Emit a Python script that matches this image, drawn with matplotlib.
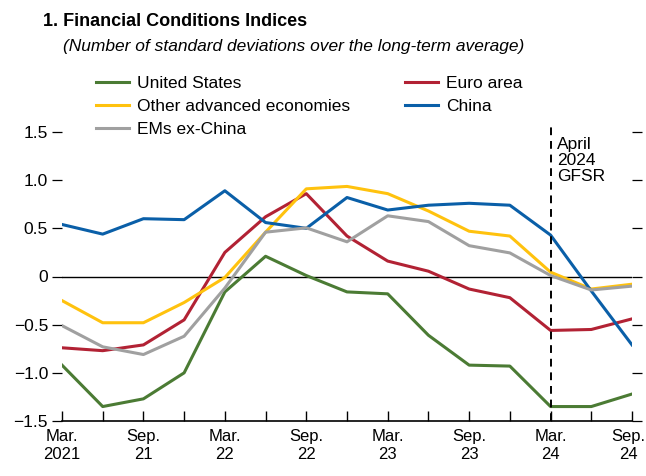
import numpy as np
import matplotlib.pyplot as plt
import matplotlib.transforms as mtransforms
from matplotlib.lines import Line2D

plt.rcParams['font.family'] = ['Liberation Sans Narrow', 'Liberation Sans', 'DejaVu Sans']

# quarterly observations, Mar. 2021 .. Sep. 2024
quarters = ['2021Q1', '2021Q2', '2021Q3', '2021Q4', '2022Q1', '2022Q2', '2022Q3', '2022Q4',
            '2023Q1', '2023Q2', '2023Q3', '2023Q4', '2024Q1', '2024Q2', '2024Q3']
united_states = [-0.92, -1.35, -1.27, -1.00, -0.16, 0.21, 0.01, -0.16,
                 -0.18, -0.61, -0.92, -0.93, -1.35, -1.35, -1.22]
euro_area = [-0.74, -0.77, -0.71, -0.45, 0.25, 0.62, 0.86, 0.42,
             0.16, 0.055, -0.13, -0.22, -0.56, -0.55, -0.44]
other_adv = [-0.25, -0.48, -0.48, -0.27, -0.01, 0.46, 0.91, 0.935,
             0.86, 0.68, 0.47, 0.42, 0.045, -0.13, -0.08]
china = [0.54, 0.44, 0.60, 0.59, 0.89, 0.56, 0.50, 0.82,
         0.69, 0.74, 0.76, 0.74, 0.43, -0.15, -0.71]
ems_ex_china = [-0.51, -0.73, -0.81, -0.62, -0.12, 0.46, 0.505, 0.36,
                0.63, 0.57, 0.32, 0.245, 0.01, -0.14, -0.10]

tick_labels = ['Mar.\n2021', 'Sep.\n21', 'Mar.\n22', 'Sep.\n22',
               'Mar.\n23', 'Sep.\n23', 'Mar.\n24', 'Sep.\n24']
gfsr_quarter = '2024Q1'

series = [
    ('United States', united_states, '#4b7b34'),
    ('Euro area', euro_area, '#b22234'),
    ('Other advanced economies', other_adv, '#ffc20e'),
    ('China', china, '#0a5fa8'),
    ('EMs ex-China', ems_ex_china, '#a0a0a0'),
]

x = np.arange(len(quarters))

fig = plt.figure(figsize=(6.46, 4.76), dpi=100)
ax = fig.add_axes([62/646, 1 - 421/476, (632 - 62)/646, (421 - 132)/476])

ax.axhline(0, color='black', lw=1.0, zorder=1)
for name, vals, col in series:
    ax.plot(x, vals, color=col, lw=2.2, label=name, zorder=3)

gx = quarters.index(gfsr_quarter)
ax.plot([gx, gx], [-1.5, 1.55], color='black', lw=1.4, ls=(0, (4, 3)),
        clip_on=False, zorder=4)
ax.text(gx + 0.15, 1.45, 'April\n2024\nGFSR', fontsize=12.5, va='top', ha='left',
        linespacing=1.1)

ax.set_xlim(0, len(quarters) - 1)
ax.set_ylim(-1.5, 1.5)
ax.set_xticks(x)
ax.set_xticklabels([tick_labels[i // 2] if i % 2 == 0 else '' for i in x])
ax.set_yticks([-1.5, -1.0, -0.5, 0, 0.5, 1.0, 1.5])
ax.set_yticklabels(['\u22121.5', '\u22121.0', '\u22120.5', '0', '0.5', '1.0', '1.5'])

for s in ['top', 'left', 'right']:
    ax.spines[s].set_visible(False)
ax.spines['bottom'].set_linewidth(1.2)
ax.tick_params(axis='x', direction='in', length=7, width=1.0, labelsize=12, pad=6)
ax.tick_params(axis='y', direction='out', length=7, width=0.9, labelsize=12.5, pad=3,
               right=True, left=True)
# nudge the last label a little left so it stays inside the figure
last = ax.get_xticklabels()[-1]
last.set_transform(last.get_transform() +
                   mtransforms.ScaledTranslation(-4/100, 0, fig.dpi_scale_trans))

handles = [Line2D([], [], color=c, lw=2.2) for _, _, c in series]
# legend fills row by row in the reference: column-major order for matplotlib
order = [0, 2, 4, 1, 3]
fig.legend([handles[i] for i in order], [series[i][0] for i in order],
           loc='upper left', bbox_to_anchor=(96/646, 1 - 76/476), ncol=2,
           frameon=False, fontsize=12.5, handlelength=1.9, handletextpad=0.45,
           columnspacing=3.2, labelspacing=0.45, borderaxespad=0, borderpad=0)

fig.text(43/646, 1 - 22/476, '1. Financial Conditions Indices', fontsize=13,
         fontweight='bold', va='center', ha='left')
fig.text(63/646, 1 - 47/476, '(Number of standard deviations over the long-term average)',
         fontsize=12.5, style='italic', va='center', ha='left')

fig.savefig('out.png', dpi=100)
